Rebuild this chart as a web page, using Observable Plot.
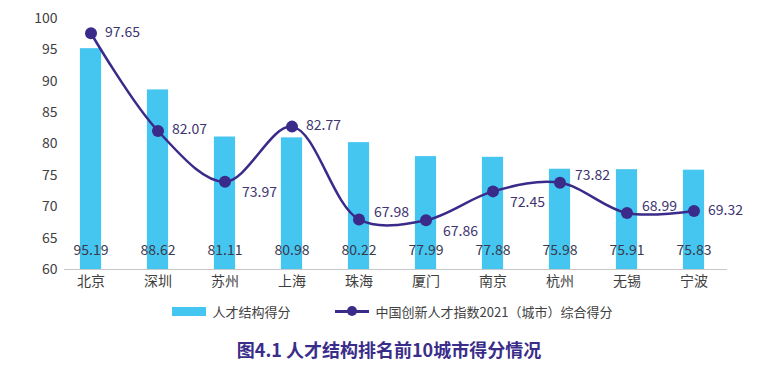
<!DOCTYPE html>
<html>
<head>
<meta charset="utf-8">
<script src="https://cdn.jsdelivr.net/npm/d3@7"></script>
<script src="https://cdn.jsdelivr.net/npm/@observablehq/plot@0.6"></script>
<style>
  body { margin: 0; background: #fff; font-family: "Noto Sans CJK SC", "Noto Sans", sans-serif; }
  #wrap { width: 770px; }
  .legend { display: flex; justify-content: center; align-items: center; gap: 0; height: 32px; font-size: 13px; color: #404040; margin-left: 14px; }
  .item { display: flex; align-items: center; margin: 0 22px; }
  .sw-bar { width: 34px; height: 9px; background: #45c6f0; margin-right: 7px; }
  .sw-line { position: relative; width: 34px; height: 12px; margin-right: 7px; }
  .sw-line::before { content: ""; position: absolute; left: 0; right: 0; top: 5px; height: 2.5px; background: #3a2a8a; }
  .sw-line::after { content: ""; position: absolute; left: 12px; top: 1px; width: 10px; height: 10px; border-radius: 50%; background: #3a2a8a; }
  .title { text-align: center; font-weight: 700; font-size: 18px; color: #3a2d8a; margin-top: 9px; margin-left: 8px; }
</style>
</head>
<body>
<div id="wrap"></div>
<script>
const cities = ["北京", "深圳", "苏州", "上海", "珠海", "厦门", "南京", "杭州", "无锡", "宁波"];
const structureScores = [95.19, 88.62, 81.11, 80.98, 80.22, 77.99, 77.88, 75.98, 75.91, 75.83];
const indexScores = [97.65, 82.07, 73.97, 82.77, 67.98, 67.86, 72.45, 73.82, 68.99, 69.32];
const yTicks = [60, 65, 70, 75, 80, 85, 90, 95, 100];
const barSeriesName = "人才结构得分";
const lineSeriesName = "中国创新人才指数2021（城市）综合得分";
const chartTitle = "图4.1 人才结构排名前10城市得分情况";
// label placement relative to the point (style only)
const labelPlacement = ["mid", "mid", "low", "mid", "high", "low", "low", "high", "high", "mid"];

const rows = cities.map((c, i) => ({city: c, bar: structureScores[i], idx: indexScores[i], place: labelPlacement[i]}));

const barColor = "#45c6f0";
const lineColor = "#3a2a8a";
const font = "'Noto Sans CJK SC', 'Noto Sans', sans-serif";

const chart = Plot.plot({
  width: 770,
  height: 295,
  marginTop: 18,
  marginBottom: 26,
  marginLeft: 64,
  marginRight: 43,
  style: {fontFamily: font, fontSize: "14px", color: "#404040", background: "#fff"},
  x: {domain: cities, range: [53, 731], padding: 0, label: null},
  y: {domain: [60, 100], label: null},
  marks: [
    Plot.barY(rows, {x: "city", y1: 60, y2: "bar", fill: barColor, insetLeft: 22.9, insetRight: 22.9}),
    Plot.ruleY([60], {stroke: "#c8c8c8", strokeWidth: 1.2}),
    Plot.text(rows, {x: "city", y: 60, text: d => d.bar.toFixed(2), dy: -19, fill: "#3a3a4e", fontSize: 14}),
    Plot.line(rows, {x: "city", y: "idx", stroke: lineColor, strokeWidth: 2.5, curve: "catmull-rom"}),
    Plot.dot(rows, {x: "city", y: "idx", r: 6, fill: lineColor}),
    Plot.text(rows.filter(d => d.place === "mid"), {x: "city", y: "idx", text: d => d.idx.toFixed(2), dx: 14, dy: -1, textAnchor: "start", fill: "#3d3470", fontSize: 14}),
    Plot.text(rows.filter(d => d.place === "high"), {x: "city", y: "idx", text: d => d.idx.toFixed(2), dx: 15, dy: -7, textAnchor: "start", fill: "#3d3470", fontSize: 14}),
    Plot.text(rows.filter(d => d.place === "low"), {x: "city", y: "idx", text: d => d.idx.toFixed(2), dx: 17, dy: 11, textAnchor: "start", fill: "#3d3470", fontSize: 14}),
    Plot.axisY({ticks: yTicks, tickSize: 0, tickPadding: 7, fontSize: 14, fill: "#404040"}),
    Plot.axisX({tickSize: 0, tickPadding: 7, fontSize: 14, fill: "#404040"})
  ]
});

const wrap = document.getElementById("wrap");
wrap.appendChild(chart);

const legend = document.createElement("div");
legend.className = "legend";
legend.innerHTML = `<div class="item"><span class="sw-bar"></span><span>${barSeriesName}</span></div>
<div class="item"><span class="sw-line"></span><span>${lineSeriesName}</span></div>`;
wrap.appendChild(legend);

const title = document.createElement("div");
title.className = "title";
title.textContent = chartTitle;
wrap.appendChild(title);
</script>
</body>
</html>
